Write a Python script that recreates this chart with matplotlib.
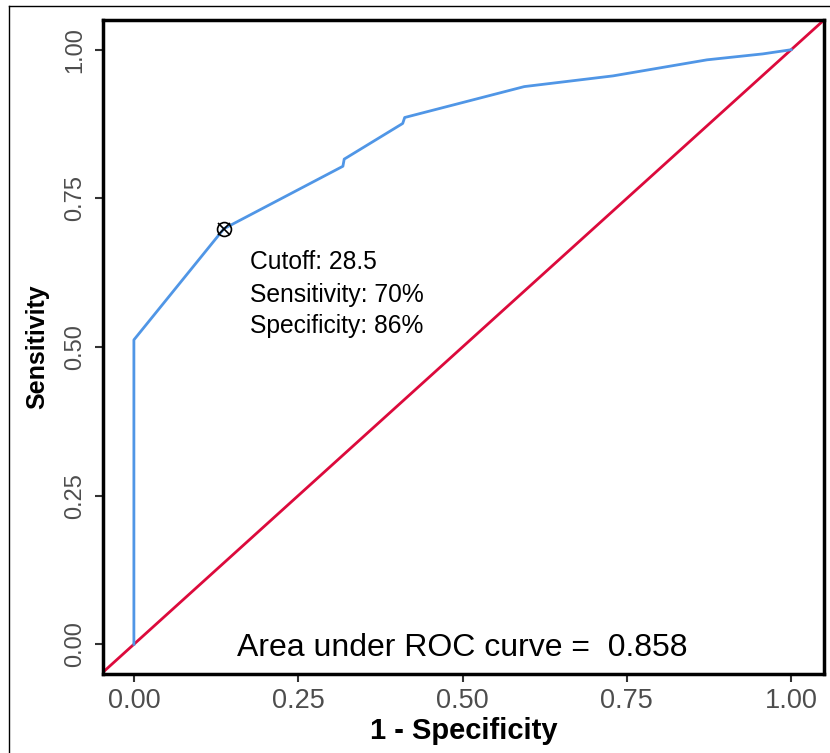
import matplotlib
matplotlib.use("Agg")
import matplotlib.pyplot as plt
from matplotlib.lines import Line2D

plt.rcParams['font.family'] = ['Liberation Sans', 'DejaVu Sans']

# ROC curve points (1 - specificity, sensitivity)
fpr = [0.0, 0.0, 0.137, 0.318, 0.320, 0.409, 0.412, 0.594, 0.729, 0.872, 0.957, 1.0]
tpr = [0.0, 0.512, 0.699, 0.804, 0.816, 0.876, 0.886, 0.938, 0.956, 0.983, 0.993, 1.0]

cut_fpr = 0.137
cut_tpr = 0.699
cutoff_lines = ["Cutoff: 28.5", "Sensitivity: 70%", "Specificity: 86%"]
auc_text = "Area under ROC curve =  0.858"

ticks = [0.0, 0.25, 0.5, 0.75, 1.0]
tick_labels = ["0.00", "0.25", "0.50", "0.75", "1.00"]

fig = plt.figure(figsize=(8.30, 7.53), dpi=100)
ax = fig.add_axes([103/830, 1 - 674/753, (824 - 103)/830, (674 - 20)/753])

ax.set_xlim(-0.047, 1.05)
ax.set_ylim(-0.05, 1.05)

ax.plot([-0.1, 1.2], [-0.1, 1.2], color='#DC0A3C', lw=2, zorder=2)
ax.plot(fpr, tpr, color='#5096E6', lw=2, zorder=3)

ax.plot([cut_fpr], [cut_tpr], marker='o', ms=10, mfc='none', mec='black', mew=1.2, zorder=4)
ax.plot([cut_fpr], [cut_tpr], marker='x', ms=8, mec='black', mew=1.2, zorder=4)

ys = [0.643, 0.588, 0.535]
for t, yy in zip(cutoff_lines, ys):
    ax.text(0.176, yy, t, fontsize=17.7, ha='left', va='center', color='black')

ax.text(0.5, -0.006, auc_text, fontsize=23, ha='center', va='center', color='black')

ax.set_xticks(ticks)
ax.set_xticklabels(tick_labels)
ax.set_yticks(ticks)
ax.set_yticklabels(tick_labels, rotation=90, va='center')
ax.tick_params(axis='both', color='#333333', length=6, width=1.5, direction='out')
ax.tick_params(axis='x', labelsize=19.5, labelcolor='#4D4D4D', pad=4)
ax.tick_params(axis='y', labelsize=17, labelcolor='#4D4D4D', pad=6)

for s in ax.spines.values():
    s.set_linewidth(2.5)
    s.set_color('black')

ax.set_xlabel("1 - Specificity", fontsize=21, fontweight='bold', labelpad=2)
ax.set_ylabel("Sensitivity", fontsize=18, fontweight='bold', labelpad=11)

# thin outer border
fig.add_artist(Line2D([9/830, 1.0], [1 - 6/753, 1 - 6/753], color='black', lw=1, transform=fig.transFigure))
fig.add_artist(Line2D([9/830, 9/830], [0.0, 1 - 6/753], color='black', lw=1, transform=fig.transFigure))

fig.savefig("out.png", dpi=100)
